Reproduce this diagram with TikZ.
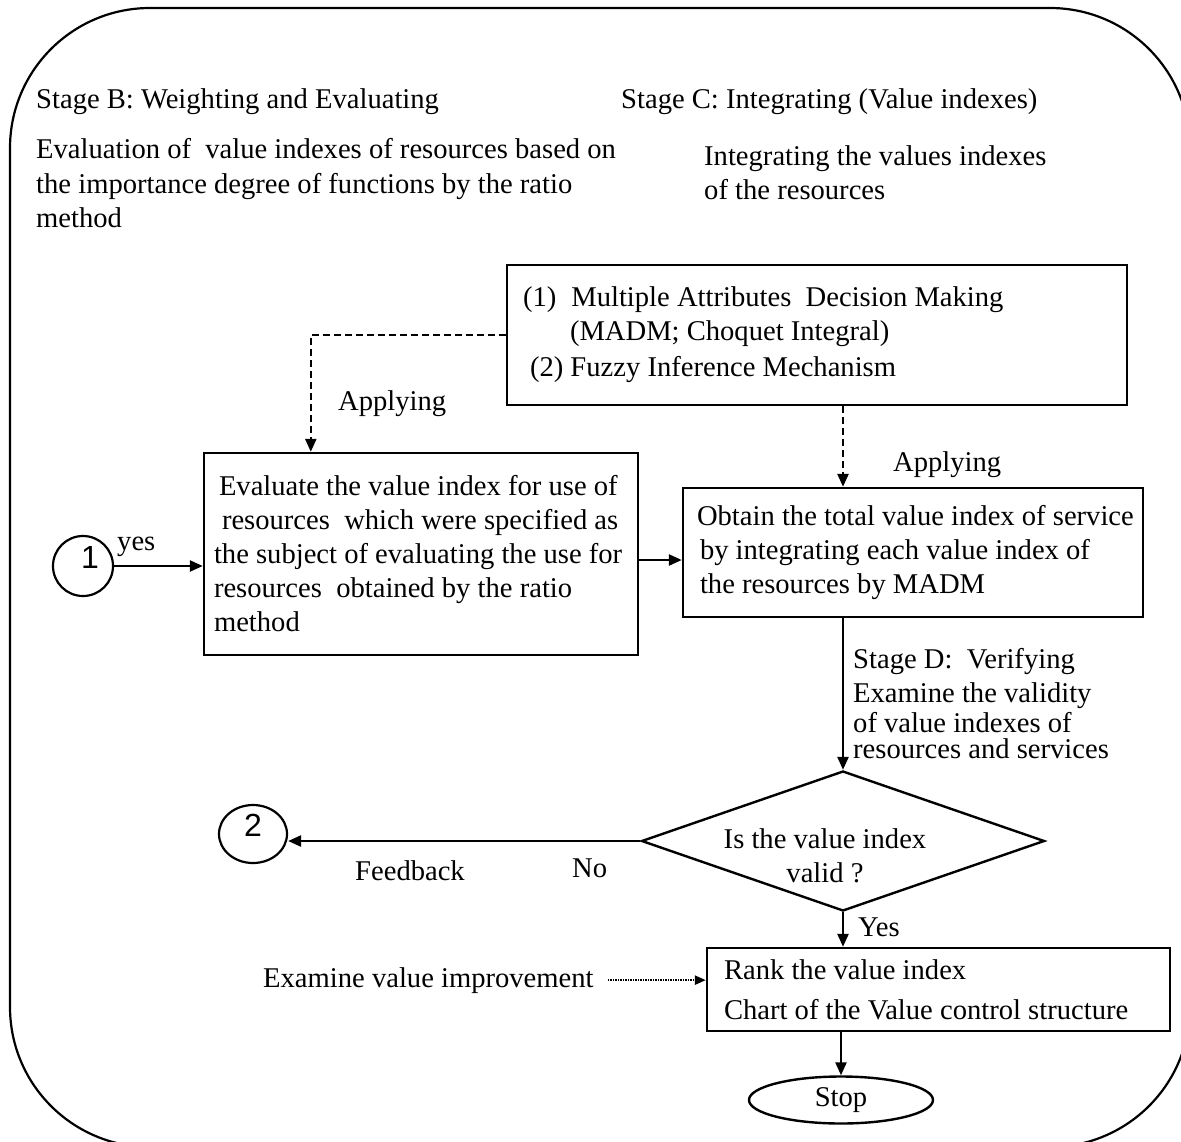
\documentclass[tikz,border=0pt]{standalone}
\usepackage{fontspec}
\setmainfont{Liberation Serif}
\newfontfamily\digitfont{Liberation Sans}
\usetikzlibrary{arrows.meta,shapes.geometric}

\begin{document}
\begin{tikzpicture}[x=1pt,y=-1pt,
  every node/.style={font=\fontsize{28.6}{34}\selectfont},
  lbl/.style={anchor=base west, inner sep=0pt},
  plainspace/.style={execute at begin node={\spaceskip=0pt\xspaceskip=0pt\relax}},
  box/.style={draw, line width=2.4pt, rectangle, align=flush left, plainspace, inner ysep=0pt},
  arr/.style={line width=2.4pt, -{Triangle[length=13pt,width=11pt]}},
  dasharr/.style={arr, dash pattern=on 7pt off 4pt},
  dotarr/.style={line width=2.2pt, dash pattern=on 1.5pt off 1pt, -{Triangle[length=11pt,width=9pt]}},
  digit/.style={inner sep=0pt, font=\digitfont\fontsize{32}{32}\selectfont},
]
\useasboundingbox (0,0) rectangle (1181,1141);

% outer frame with large rounded corners
\begin{scope}
  \clip (0,0) rectangle (1181,1141);
  \draw[line width=2.2pt, rounded corners=140pt] (10,8) rectangle (1190,1147);
\end{scope}

% stage headings and descriptions
\node[lbl] (stB) at (36,108) {Stage B: Weighting and Evaluating};
\node[lbl] (stC) at (621,108) {Stage C: Integrating (Value indexes)};
\node[lbl] (evA) at (36,158) {Evaluation of\ \ value indexes of resources based on};
\node[lbl] (evB) at (36,193) {the importance degree of functions by the ratio};
\node[lbl] (evC) at (36,227) {method};
\node[lbl] (inA) at (704,165) {Integrating the values indexes};
\node[lbl] (inB) at (704,199) {of the resources};

% process boxes
\node[box, minimum width=620, minimum height=140, text width=588, inner xsep=16]
  (madm) at (817,335)
  {\mbox{(1)\hspace{15pt}Multiple Attributes\ \ Decision Making}\\
   \hspace*{47pt}(MADM; Choquet Integral)\\[2pt]
   \hspace*{7pt}(2) Fuzzy Inference Mechanism};

\node[box, minimum width=434, minimum height=202, text width=414, inner xsep=10]
  (eval) at (421,554)
  {\mbox{\hspace*{5pt}Evaluate the value index for use of}\\
   \mbox{\hspace*{8pt}resources\ \ which were specified as}\\
   \mbox{the subject of evaluating the use for}\\
   \mbox{resources\ \ obtained by the ratio}\\
   method};

\node[box, minimum width=460, minimum height=129, text width=432, inner xsep=14]
  (obtain) at (913,552.5)
  {\mbox{Obtain the total value index of service}\\
   \mbox{\hspace*{3pt}by integrating each value index of}\\
   \mbox{\hspace*{3pt}the resources by MADM}};

\node[diamond, draw, line width=2.4pt, aspect=2.88, minimum width=403,
      minimum height=140, inner sep=0pt] (dec) at (843,841) {};
\node[inner sep=0pt, align=flush center, plainspace] (dectext) at (825,856)
  {Is the value index\\valid ?};

\node[box, minimum width=463, minimum height=83, text width=429, inner xsep=17]
  (rank) at (938.5,989.5)
  {Rank the value index\\[6pt]
   \mbox{Chart of the Value control structure}};

\node[ellipse, draw, line width=2.4pt, minimum width=184, minimum height=47,
      inner sep=0pt] (stop) at (841,1100) {Stop};

% off-page connectors
\node[circle, draw, line width=2.2pt, minimum size=60, inner sep=0pt] (c1) at (83,566) {};
\node[digit] (n1) at (90,557) {1};
\node[ellipse, draw, line width=2.2pt, minimum width=68, minimum height=58, inner sep=0pt] (c2) at (253,834) {};
\node[digit] (n2) at (253,825) {2};

% edge labels
\node[lbl] (yes1) at (117,550) {yes};
\node[lbl] (apL) at (338,410) {Applying};
\node[lbl] (apR) at (893,471) {Applying};
\node[lbl] (sdA) at (853,668) {Stage D:\ \ Verifying};
\node[lbl] (sdB) at (853,702) {Examine the validity};
\node[lbl] (sdC) at (853,732) {of value indexes of};
\node[lbl] (sdD) at (853,758) {resources and services};
\node[lbl] (no) at (572,877) {No};
\node[lbl] (fb) at (355,880) {Feedback};
\node[lbl] (yes2) at (858,936) {Yes};
\node[lbl] (exam) at (263,987) {Examine value improvement};

% arrows
\draw[dasharr] (madm.west) -| ([xshift=108pt]eval.north west);
\draw[dasharr] (madm.south -| dec.north) -- (obtain.north -| dec.north);
\draw[arr] (c1.east) -- (c1.east -| eval.west);
\draw[arr] ([yshift=-6pt]eval.east) -- ([yshift=-6pt]eval.east -| obtain.west);
\draw[arr] (obtain.south -| dec.north) -- (dec.north);
\draw[arr] (dec.west) -- (dec.west -| c2.east);
\draw[arr] (dec.south) -- (dec.south |- rank.north);
\draw[dotarr] ([xshift=14pt]exam.east) -- (exam.east -| rank.west);
\draw[arr] (rank.south -| stop.north) -- (stop.north);
\end{tikzpicture}
\end{document}
